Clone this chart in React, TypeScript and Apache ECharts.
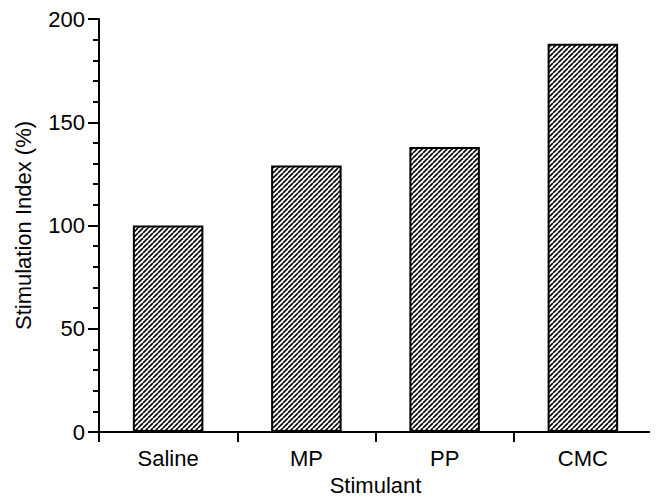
import React, { useEffect, useRef } from "react";
import * as echarts from "echarts";

const categories = ["Saline", "MP", "PP", "CMC"];
const values = [100, 129, 138, 188];
const yTicks = [0, 50, 100, 150, 200];

function makeHatch(): HTMLCanvasElement {
  const s = 5;
  const c = document.createElement("canvas");
  c.width = s;
  c.height = s;
  const ctx = c.getContext("2d")!;
  ctx.fillStyle = "#fff";
  ctx.fillRect(0, 0, s, s);
  ctx.strokeStyle = "#000";
  ctx.lineWidth = 1.6;
  for (const off of [-s, 0, s]) {
    ctx.beginPath();
    ctx.moveTo(off, s);
    ctx.lineTo(off + s, 0);
    ctx.stroke();
  }
  return c;
}

export default function App() {
  const ref = useRef<HTMLDivElement>(null);
  useEffect(() => {
    if (!ref.current) return;
    const chart = echarts.init(ref.current, undefined, { renderer: "svg" });
    const font = "'Liberation Sans', Arial, Helvetica, sans-serif";
    const hatch = makeHatch();
    chart.setOption({
      animation: false,
      backgroundColor: "#fff",
      grid: { left: 91, right: 6, top: 11, bottom: 65, containLabel: false, outerBoundsMode: "none" },
      xAxis: {
        type: "category",
        data: categories,
        name: "Stimulant",
        nameLocation: "middle",
        nameGap: 42,
        nameTextStyle: { fontFamily: font, fontSize: 22, color: "#000" },
        axisLine: { lineStyle: { color: "#000", width: 2 } },
        axisTick: { show: true, length: 10, lineStyle: { color: "#000", width: 2 } },
        axisLabel: { margin: 15, fontFamily: font, fontSize: 22, color: "#000" },
        splitLine: { show: false },
      },
      yAxis: {
        type: "value",
        min: yTicks[0],
        max: yTicks[yTicks.length - 1],
        interval: 50,
        name: "Stimulation Index (%)",
        nameLocation: "middle",
        nameGap: 65,
        nameTextStyle: { fontFamily: font, fontSize: 22, color: "#000" },
        axisLine: { show: true, lineStyle: { color: "#000", width: 2 } },
        axisTick: { show: true, length: 11, lineStyle: { color: "#000", width: 2 } },
        minorTick: { show: true, splitNumber: 5, length: 6, lineStyle: { color: "#000", width: 2 } },
        axisLabel: { margin: 14, fontFamily: font, fontSize: 22, color: "#000" },
        splitLine: { show: false },
        minorSplitLine: { show: false },
      },
      series: [
        {
          type: "bar",
          data: values,
          barWidth: "51%",
          itemStyle: {
            color: { image: hatch, repeat: "repeat" },
            borderColor: "#000",
            borderWidth: 2,
          },
        },
      ],
    });
    return () => chart.dispose();
  }, []);
  return <div ref={ref} style={{ width: 650, height: 489 }} />;
}
